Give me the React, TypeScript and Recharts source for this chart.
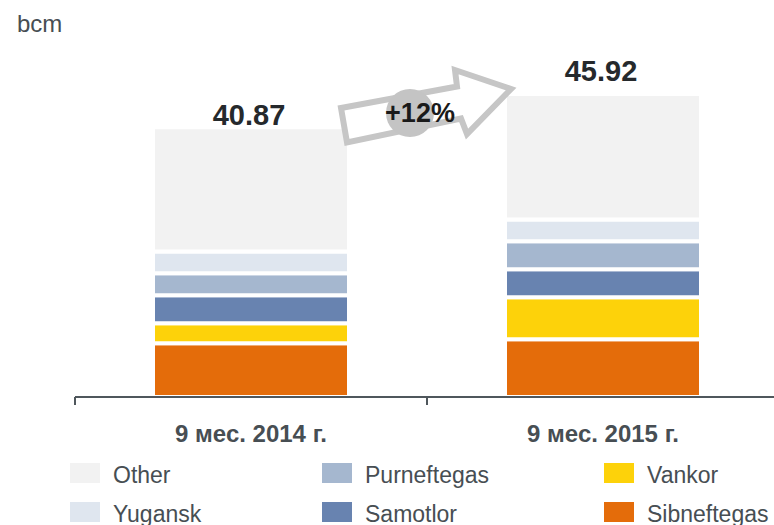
import React from 'react';
import { BarChart, Bar, XAxis, YAxis, LabelList } from 'recharts';

const FONT = '"Liberation Sans", Arial, Helvetica, sans-serif';

// ---- data ----
const CATEGORIES = ['9 мес. 2014 г.', '9 мес. 2015 г.'];
const SIBNEFTEGAS = [8.15, 8.74];
const VANKOR = [3.02, 6.36];
const SAMOTLOR = [4.24, 4.24];
const PURNEFTEGAS = [3.33, 4.24];
const YUGANSK = [3.3, 3.33];
const OTHER = [18.83, 19.01];
const TOTALS = [40.87, 45.92];
const GROWTH_LABEL = '+12%';
const UNIT_LABEL = 'bcm';

// ---- styles ----
const SERIES = [
  { key: 'Sibneftegas', values: SIBNEFTEGAS, color: '#e46c0a' },
  { key: 'Vankor', values: VANKOR, color: '#fdd20a' },
  { key: 'Samotlor', values: SAMOTLOR, color: '#6883b0' },
  { key: 'Purneftegas', values: PURNEFTEGAS, color: '#a5b7cf' },
  { key: 'Yugansk', values: YUGANSK, color: '#dfe6ef' },
  { key: 'Other', values: OTHER, color: '#f2f2f2' },
];

const LEGEND_ORDER = [
  ['Other', 'Yugansk'],
  ['Purneftegas', 'Samotlor'],
  ['Vankor', 'Sibneftegas'],
];
const LEGEND_COL_X = [70, 322, 604];
const LEGEND_ROW_Y = [463, 502];
const LABEL_GAPS = [2, 13];

const data = CATEGORIES.map((category, i) => {
  const row: Record<string, string | number> = { category };
  SERIES.forEach((s) => {
    row[s.key] = s.values[i];
  });
  return row;
});

const TEXT_GREY = '#474e53';
const AXIS_COLOR = '#4f575c';

function CategoryTick(props: any) {
  const { x, y, payload, width, visibleTicksCount, index } = props;
  const half = width / visibleTicksCount / 2;
  return (
    <g>
      <line x1={x - half} x2={x - half} y1={y} y2={y + 8} stroke={AXIS_COLOR} strokeWidth={2} />
      {index === visibleTicksCount - 1 && (
        <line x1={x + half} x2={x + half} y1={y} y2={y + 8} stroke={AXIS_COLOR} strokeWidth={2} />
      )}
      <text
        x={x}
        y={y + 45}
        textAnchor="middle"
        fontFamily={FONT}
        fontWeight="bold"
        fontSize={24}
        fill={TEXT_GREY}
      >
        {payload.value}
      </text>
    </g>
  );
}

function TotalLabel(props: any) {
  const { x, y, width, index } = props;
  return (
    <text
      x={x + width / 2 - 2}
      y={y - LABEL_GAPS[index]}
      textAnchor="middle"
      fontFamily={FONT}
      fontWeight="bold"
      fontSize={29}
      fill="#25292c"
    >
      {TOTALS[index].toFixed(2)}
    </text>
  );
}

function colorOf(key: string) {
  return SERIES.find((s) => s.key === key)!.color;
}

export default function App() {
  return (
    <div
      style={{
        position: 'absolute',
        left: 0,
        top: 0,
        width: 774,
        height: 525,
        overflow: 'hidden',
        background: '#fff',
      }}
    >
      <BarChart
        width={790}
        height={525}
        data={data}
        margin={{ top: 67, right: 11, left: 75, bottom: 0 }}
        barSize={196}
      >
        <YAxis hide domain={[0, 50]} type="number" />
        <XAxis
          dataKey="category"
          height={128}
          interval={0}
          tickLine={false}
          tickSize={0}
          tickMargin={0}
          axisLine={{ stroke: AXIS_COLOR, strokeWidth: 2 }}
          tick={<CategoryTick />}
        />
        {SERIES.map((s, i) => (
          <Bar
            key={s.key}
            dataKey={s.key}
            stackId="a"
            fill={s.color}
            stroke="#ffffff"
            strokeWidth={4}
            isAnimationActive={false}
          >
            {i === SERIES.length - 1 && <LabelList dataKey={s.key} content={<TotalLabel />} />}
          </Bar>
        ))}
      </BarChart>

      <svg
        width={774}
        height={525}
        style={{ position: 'absolute', left: 0, top: 0, pointerEvents: 'none' }}
      >
        <text x={17} y={32} fontFamily={FONT} fontSize={24} fill={TEXT_GREY}>
          {UNIT_LABEL}
        </text>

        <polygon
          points="341,108 457,86.5 455,70 511,89 467,134 461,118.5 347,142.5"
          fill="#ffffff"
          stroke="#c6c6c6"
          strokeWidth={6}
          strokeLinejoin="miter"
        />
        <circle cx={410} cy={113} r={24} fill="#c4c4c4" />
        <text
          x={420}
          y={122}
          textAnchor="middle"
          fontFamily={FONT}
          fontWeight="bold"
          fontSize={27}
          fill="#1a1a1a"
        >
          {GROWTH_LABEL}
        </text>

        {LEGEND_ORDER.map((col, ci) =>
          col.map((key, ri) => (
            <g key={key}>
              <rect
                x={LEGEND_COL_X[ci]}
                y={LEGEND_ROW_Y[ri]}
                width={30}
                height={20}
                fill={colorOf(key)}
              />
              <text
                x={LEGEND_COL_X[ci] + 43}
                y={LEGEND_ROW_Y[ri] + 20}
                fontFamily={FONT}
                fontSize={23}
                fill={TEXT_GREY}
              >
                {key}
              </text>
            </g>
          ))
        )}
      </svg>
    </div>
  );
}
